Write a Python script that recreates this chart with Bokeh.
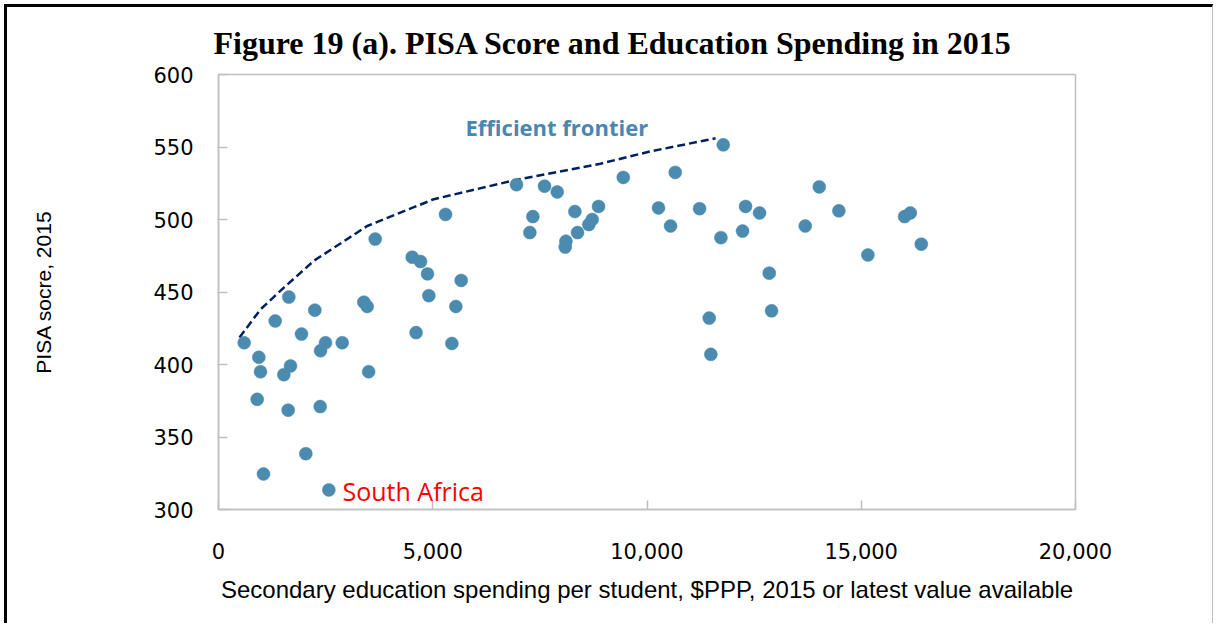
from bokeh.plotting import figure
from bokeh.models import Range1d, FixedTicker, NumeralTickFormatter, Label
from bokeh.embed import file_html
from bokeh.resources import INLINE

# Secondary education spending per student ($PPP) and PISA score, 2015
spending = [599, 941, 980, 903, 1050, 1323, 1525, 1681, 1641, 1626, 1937, 2038,
            2248, 2381, 2497, 2373, 2575, 2887, 3392, 3470, 3504, 3657, 4521, 4611,
            4715, 4878, 4909, 5298, 5446, 5539, 5664, 6955, 7266, 7336, 7609, 7905,
            8092, 8108, 8317, 8379, 8643, 8721, 8869, 9446, 10269, 10550, 10659,
            11227, 11452, 11490, 11725, 11780, 12230, 12300, 12627, 12853, 12907,
            13693, 14020, 14478, 15155, 16012, 16145, 16401]
pisa = [415, 405, 395, 376, 324.5, 430, 393, 399, 446.5, 368.5, 421, 338.5,
        437.5, 409.5, 415, 371, 313.5, 415, 443, 440, 395, 486.5, 474, 422,
        471, 462.5, 447.5, 503.5, 414.5, 440, 458, 524, 491, 502, 523, 519,
        481, 485, 505.5, 491, 496.5, 500, 509, 529, 508, 495.5, 532.5,
        507.5, 432, 407, 487.5, 551.5, 492, 509, 504.5, 463, 437,
        495.5, 522.5, 506, 475.5, 502, 504.5, 483]

# Efficient frontier
frontier_x = [490, 980, 1525, 2225, 3470, 5025, 6971, 8915, 10083, 11600]
frontier_y = [418.6, 438, 453, 471.5, 495.5, 514, 527.5, 538.5, 547, 556]

x_ticks = [0, 5000, 10000, 15000, 20000]
y_ticks = [300, 350, 400, 450, 500, 550, 600]

title = "Figure 19 (a). PISA Score and Education Spending in 2015"
x_label = "Secondary education spending per student, $PPP, 2015 or latest value available"
y_label = "PISA socre, 2015"

GRAY = "#BFBFBF"
DOT = "#4A8BAF"

p = figure(width=1209, height=619, output_backend="svg", toolbar_location=None,
           x_range=Range1d(0, 20000), y_range=Range1d(300, 600),
           min_border_left=211, min_border_right=141, min_border_top=67,
           min_border_bottom=117, title=title)
p.styles = {"margin-top": "4px", "margin-left": "4px",
            "border-top": "3px solid black", "border-left": "3px solid black",
            "border-right": "1px solid #BFBFBF"}

p.title.text_font = "Liberation Serif"
p.title.text_font_style = "bold"
p.title.text_font_size = "32px"
p.title.align = "left"
p.title.offset = -5
p.title.standoff = 28
p.title.text_color = "black"

p.xgrid.visible = False
p.ygrid.visible = False
p.outline_line_color = GRAY
p.outline_line_width = 1.5

for ax in (p.xaxis[0], p.yaxis[0]):
    ax.axis_line_color = GRAY
    ax.axis_line_width = 1.5
    ax.major_tick_line_color = GRAY
    ax.major_tick_line_width = 1.5
    ax.major_tick_in = 9
    ax.major_tick_out = 0
    ax.minor_tick_line_color = None
    ax.major_label_text_font = "DejaVu Sans"
    ax.major_label_text_font_size = "21px"
    ax.major_label_text_color = "black"
    ax.axis_label_text_font = "Liberation Sans"
    ax.axis_label_text_font_style = "normal"
    ax.axis_label_text_color = "black"

p.xaxis.ticker = FixedTicker(ticks=x_ticks)
p.xaxis.formatter = NumeralTickFormatter(format="0,0")
p.xaxis.major_label_standoff = 33
p.xaxis.axis_label = x_label
p.xaxis.axis_label_text_font_size = "24px"
p.xaxis.axis_label_standoff = 14

p.yaxis.ticker = FixedTicker(ticks=y_ticks)
p.yaxis.major_label_standoff = 25
p.yaxis.axis_label = y_label
p.yaxis.axis_label_text_font_size = "21px"
p.yaxis.axis_label_standoff = 95

p.line(frontier_x, frontier_y, line_color="#002060", line_width=2.5, line_dash="8 4")
p.scatter(spending, pisa, size=13, fill_color=DOT, line_color=DOT, line_width=0.5)

p.add_layout(Label(x=5765, y=564, text="Efficient frontier", text_font="Open Sans",
                   text_font_style="bold", text_font_size="22px", text_color="#4A86B0",
                   text_baseline="middle"))
p.add_layout(Label(x=2894, y=313, text="South Africa", text_font="Open Sans",
                   text_font_size="25px", text_color="#FF0000", text_baseline="middle"))

open("out.html", "w").write(file_html(p, INLINE))
